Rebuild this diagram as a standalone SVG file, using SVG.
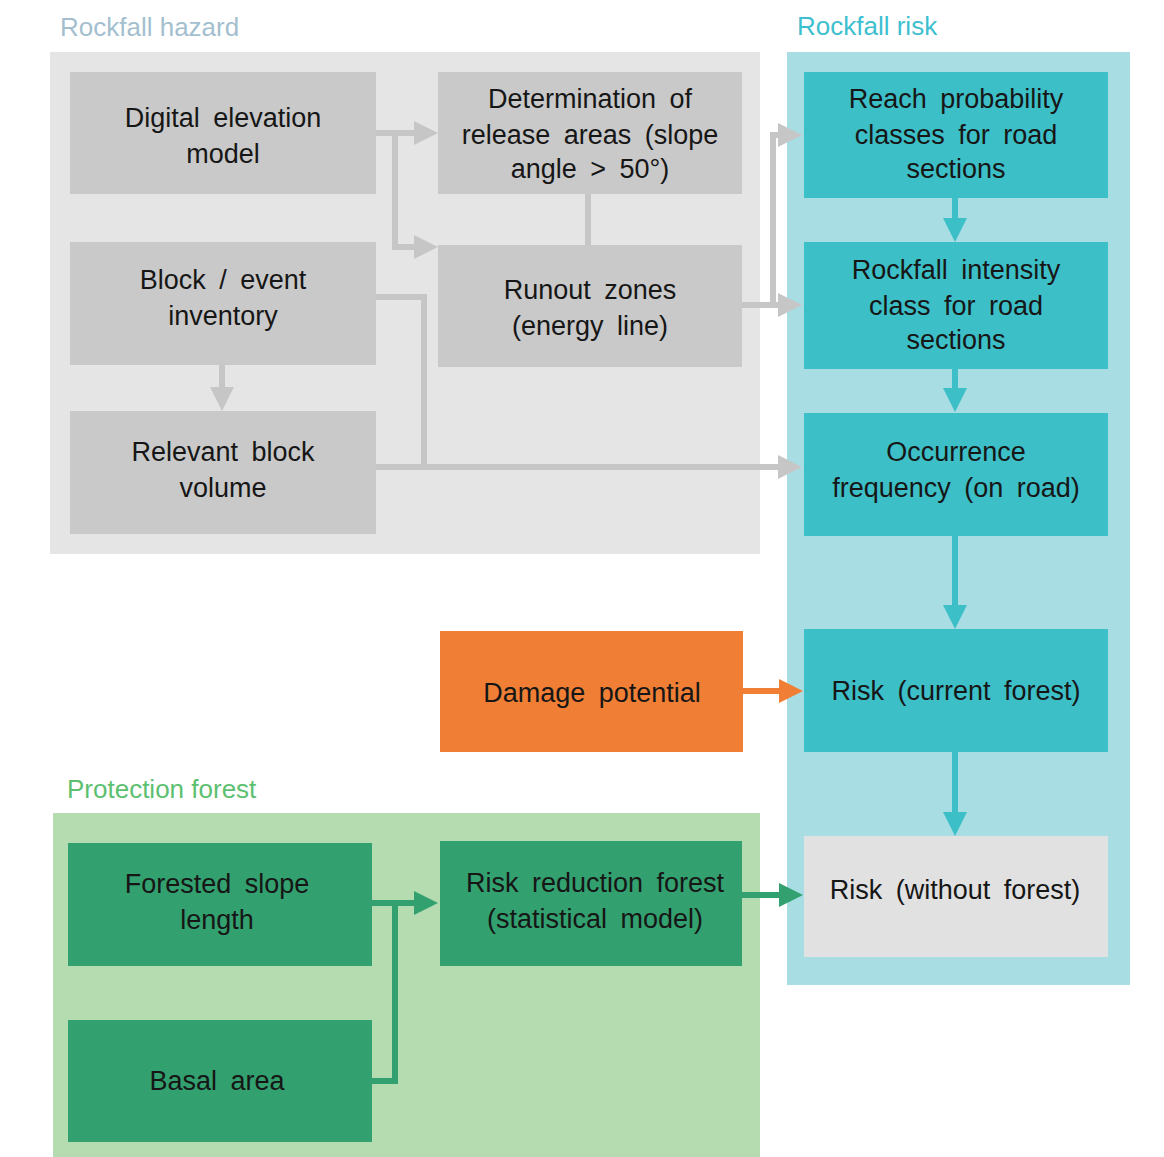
<svg xmlns="http://www.w3.org/2000/svg" width="1164" height="1157" viewBox="0 0 1164 1157">
<style>
.t{font-family:"Liberation Sans",Arial,sans-serif;font-size:27px;fill:#161616;text-anchor:middle;word-spacing:6px}
.h{font-family:"Liberation Sans",Arial,sans-serif;font-size:26px}
.g{fill:#c9c9c9}
.c{fill:#3dbfc7}
.f{fill:#33a06f}
.lg{stroke:#c6c6c6;stroke-width:6;fill:none}
.lc{stroke:#3dbfc7;stroke-width:6;fill:none}
.lf{stroke:#33a06f;stroke-width:6;fill:none}
.lo{stroke:#f07f35;stroke-width:6;fill:none}
</style>
<defs>
<marker id="ag" markerWidth="4" markerHeight="4" refX="3" refY="2" orient="auto" markerUnits="strokeWidth"><path d="M0,0 L4,2 L0,4 z" fill="#c6c6c6"/></marker>
<marker id="ac" markerWidth="4" markerHeight="4" refX="3" refY="2" orient="auto" markerUnits="strokeWidth"><path d="M0,0 L4,2 L0,4 z" fill="#3dbfc7"/></marker>
<marker id="af" markerWidth="4" markerHeight="4" refX="3" refY="2" orient="auto" markerUnits="strokeWidth"><path d="M0,0 L4,2 L0,4 z" fill="#33a06f"/></marker>
<marker id="ao" markerWidth="4" markerHeight="4" refX="3" refY="2" orient="auto" markerUnits="strokeWidth"><path d="M0,0 L4,2 L0,4 z" fill="#f07f35"/></marker>
</defs>
<rect width="1164" height="1157" fill="#ffffff"/>
<g id="panels">
<rect x="50" y="52" width="710" height="502" fill="#e5e5e5"/>
<rect x="787" y="52" width="343" height="933" fill="#a8dde3"/>
<rect x="53" y="813" width="707" height="344" fill="#b5dbb0"/>
<text class="h" x="60" y="36" fill="#a3bfcf">Rockfall hazard</text>
<text class="h" x="797" y="35" fill="#3dbfd0">Rockfall risk</text>
<text class="h" x="67" y="798" fill="#5cc070">Protection forest</text>
</g>
<g id="connectors">
<path class="lg" d="M376,133 H432" marker-end="url(#ag)"/>
<path class="lg" d="M395,133 V247 H432" marker-end="url(#ag)"/>
<path class="lg" d="M588,194 V245"/>
<path class="lg" d="M376,297 H424 V467"/>
<path class="lg" d="M376,467 H796" marker-end="url(#ag)"/>
<path class="lg" d="M742,305 H796" marker-end="url(#ag)"/>
<path class="lg" d="M773,305 V135 H796" marker-end="url(#ag)"/>
<path class="lg" d="M222,365 V405" marker-end="url(#ag)"/>
<path class="lc" d="M955,198 V236" marker-end="url(#ac)"/>
<path class="lc" d="M955,369 V406" marker-end="url(#ac)"/>
<path class="lc" d="M955,536 V623" marker-end="url(#ac)"/>
<path class="lc" d="M955,752 V830" marker-end="url(#ac)"/>
<path class="lo" d="M743,691 H797" marker-end="url(#ao)"/>
<path class="lf" d="M742,895 H797" marker-end="url(#af)"/>
<path class="lf" d="M372,903 H432" marker-end="url(#af)"/>
<path class="lf" d="M372,1081 H395 V903"/>
</g>
<g id="dem"><rect class="g" x="70" y="72" width="306" height="122"/><text class="t" x="223" y="127">Digital elevation</text><text class="t" x="223" y="163">model</text></g>
<g id="release"><rect class="g" x="438" y="72" width="304" height="122"/><text class="t" x="590" y="108">Determination  of</text><text class="t" x="590" y="144">release  areas  (slope</text><text class="t" x="590" y="178">angle  &gt; 50°)</text></g>
<g id="block"><rect class="g" x="70" y="242" width="306" height="123"/><text class="t" x="223" y="289">Block / event</text><text class="t" x="223" y="325">inventory</text></g>
<g id="runout"><rect class="g" x="438" y="245" width="304" height="122"/><text class="t" x="590" y="299">Runout  zones</text><text class="t" x="590" y="335">(energy  line)</text></g>
<g id="volume"><rect class="g" x="70" y="411" width="306" height="123"/><text class="t" x="223" y="461">Relevant  block</text><text class="t" x="223" y="497">volume</text></g>
<g id="reach"><rect class="c" x="804" y="72" width="304" height="126"/><text class="t" x="956" y="108">Reach  probability</text><text class="t" x="956" y="144">classes  for road</text><text class="t" x="956" y="178">sections</text></g>
<g id="intensity"><rect class="c" x="804" y="242" width="304" height="127"/><text class="t" x="956" y="279">Rockfall  intensity</text><text class="t" x="956" y="315">class  for road</text><text class="t" x="956" y="349">sections</text></g>
<g id="occurrence"><rect class="c" x="804" y="413" width="304" height="123"/><text class="t" x="956" y="461">Occurrence</text><text class="t" x="956" y="497">frequency  (on road)</text></g>
<g id="damage"><rect x="440" y="631" width="303" height="121" fill="#f07f35"/><text class="t" x="592" y="702">Damage  potential</text></g>
<g id="riskcurrent"><rect class="c" x="804" y="629" width="304" height="123"/><text class="t" x="956" y="700">Risk  (current  forest)</text></g>
<g id="riskwithout"><rect x="804" y="836" width="304" height="121" fill="#e1e1e1"/><text class="t" x="955" y="899">Risk  (without  forest)</text></g>
<g id="slope"><rect class="f" x="68" y="843" width="304" height="123"/><text class="t" x="217" y="893">Forested  slope</text><text class="t" x="217" y="929">length</text></g>
<g id="basal"><rect class="f" x="68" y="1020" width="304" height="122"/><text class="t" x="217" y="1090">Basal  area</text></g>
<g id="reduction"><rect class="f" x="440" y="841" width="302" height="125"/><text class="t" x="595" y="892">Risk reduction  forest</text><text class="t" x="595" y="928">(statistical  model)</text></g>
</svg>
